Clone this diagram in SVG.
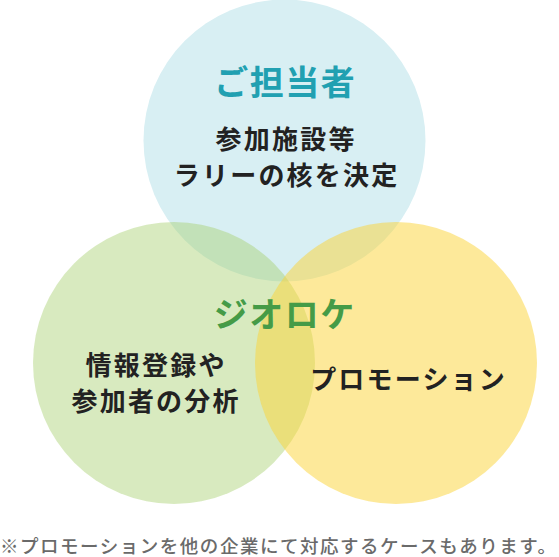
<svg xmlns="http://www.w3.org/2000/svg" width="559" height="557" viewBox="0 0 559 557">
<style>
text{font-family:"Noto Sans CJK JP","Noto Sans",sans-serif;font-weight:700;text-anchor:middle}
.head{font-size:34px;letter-spacing:1.5px}
.body{font-size:26px;letter-spacing:2.2px;fill:#222}
.note{font-size:18.5px;fill:#6a6a6a;font-weight:500;text-anchor:start}
</style>
<rect width="559" height="557" fill="#fff"/>
<g id="circle-tantosha">
<circle cx="284.5" cy="140.5" r="141" fill="#d8eff3"/>
<text class="head" x="285.3" y="95" fill="#21a0b1">ご担当者</text>
<text class="body" x="286.1" y="148.5">参加施設等</text>
<text class="body" x="286.6" y="184.5">ラリーの核を決定</text>
</g>
<g id="circle-giloke">
<circle cx="174" cy="363" r="141" fill="#a6cf6e" fill-opacity="0.44"/>
</g>
<g id="circle-promotion">
<circle cx="396" cy="363" r="141" fill="#fbd335" fill-opacity="0.5"/>
</g>
<g id="labels">
<text class="head" x="284.8" y="326.5" fill="#459b47">ジオロケ</text>
<text class="body" x="156.1" y="374.5">情報登録や</text>
<text class="body" x="156.1" y="410.5">参加者の分析</text>
<text class="body" x="408.6" y="388.5">プロモーション</text>
</g>
<g id="connectors"></g>
<text class="note" x="0" y="552.5" textLength="556" lengthAdjust="spacing">※プロモーションを他の企業にて対応するケースもあります。</text>
</svg>
